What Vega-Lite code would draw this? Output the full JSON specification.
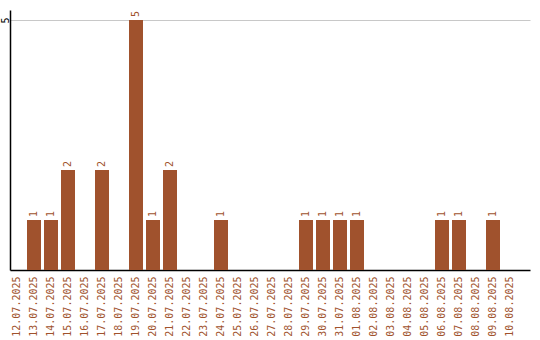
{
  "$schema": "https://vega.github.io/schema/vega-lite/v6.json",
  "autosize": {"type": "none"},
  "width": 520,
  "height": 260,
  "padding": {"left": 10, "top": 10, "right": 10, "bottom": 70},
  "background": "white",
  "config": {"view": {"stroke": null}, "font": "DejaVu Sans Mono"},
  "data": {"values": [
    {"date": "12.07.2025", "count": 0},
    {"date": "13.07.2025", "count": 1},
    {"date": "14.07.2025", "count": 1},
    {"date": "15.07.2025", "count": 2},
    {"date": "16.07.2025", "count": 0},
    {"date": "17.07.2025", "count": 2},
    {"date": "18.07.2025", "count": 0},
    {"date": "19.07.2025", "count": 5},
    {"date": "20.07.2025", "count": 1},
    {"date": "21.07.2025", "count": 2},
    {"date": "22.07.2025", "count": 0},
    {"date": "23.07.2025", "count": 0},
    {"date": "24.07.2025", "count": 1},
    {"date": "25.07.2025", "count": 0},
    {"date": "26.07.2025", "count": 0},
    {"date": "27.07.2025", "count": 0},
    {"date": "28.07.2025", "count": 0},
    {"date": "29.07.2025", "count": 1},
    {"date": "30.07.2025", "count": 1},
    {"date": "31.07.2025", "count": 1},
    {"date": "01.08.2025", "count": 1},
    {"date": "02.08.2025", "count": 0},
    {"date": "03.08.2025", "count": 0},
    {"date": "04.08.2025", "count": 0},
    {"date": "05.08.2025", "count": 0},
    {"date": "06.08.2025", "count": 1},
    {"date": "07.08.2025", "count": 1},
    {"date": "08.08.2025", "count": 0},
    {"date": "09.08.2025", "count": 1},
    {"date": "10.08.2025", "count": 0}
  ]},
  "encoding": {
    "x": {
      "field": "date", "type": "nominal", "sort": null,
      "scale": {"paddingInner": 0.1765, "paddingOuter": 0.382, "align": 0},
      "axis": {
        "title": null, "labelAngle": -90, "labelAlign": "right", "labelBaseline": "middle",
        "labelColor": "#a0522d", "labelFontSize": 10, "labelFont": "DejaVu Sans Mono",
        "labelPadding": 6, "ticks": false, "domainColor": "black", "domainWidth": 1.5, "grid": false
      }
    },
    "y": {
      "field": "count", "type": "quantitative",
      "scale": {"domain": [0, 5.2], "nice": false},
      "axis": {
        "title": null, "values": [5], "labelAngle": -90, "labelAlign": "center", "labelBaseline": "middle",
        "labelColor": "black", "labelFontSize": 10, "labelFont": "DejaVu Sans Mono",
        "labelPadding": 5, "ticks": false, "domainColor": "black", "domainWidth": 1.5,
        "grid": true, "gridColor": "#c8c8c8", "gridWidth": 1
      }
    }
  },
  "layer": [
    {"mark": {"type": "bar", "color": "#a0522d"}},
    {
      "transform": [{"filter": "datum.count > 0"}],
      "mark": {"type": "text", "angle": 270, "align": "left", "baseline": "middle", "dx": 3,
               "color": "#a0522d", "fontSize": 10, "font": "DejaVu Sans Mono"},
      "encoding": {"text": {"field": "count", "type": "quantitative"}}
    }
  ]
}
